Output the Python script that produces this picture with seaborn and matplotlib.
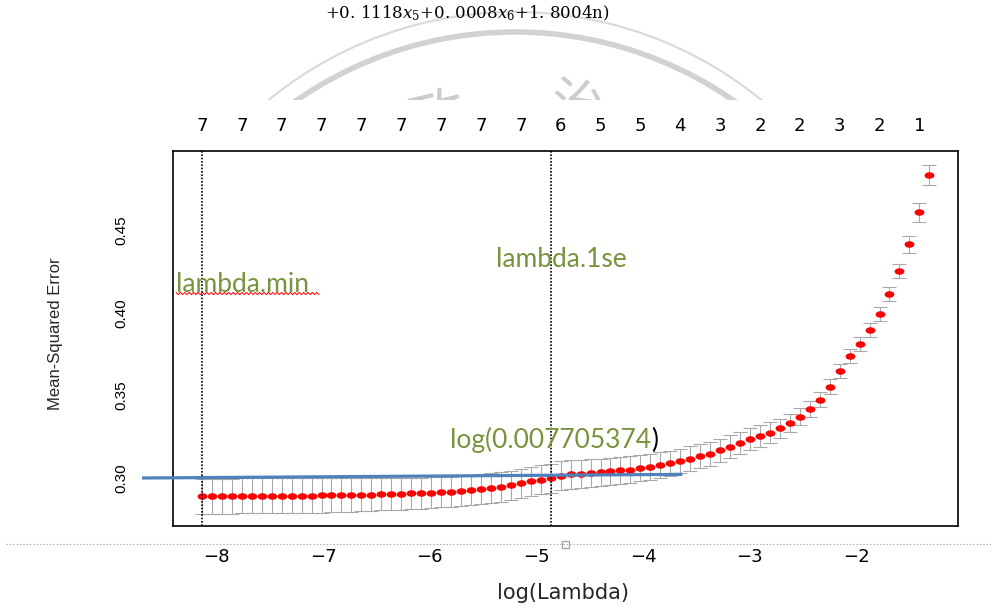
import numpy as np
import matplotlib
matplotlib.use("Agg")
import matplotlib.pyplot as plt
import seaborn as sns
import pandas as pd
from matplotlib.path import Path
from matplotlib.transforms import Affine2D, Bbox, TransformedBbox
from matplotlib.patches import Arc, Rectangle
from matplotlib.lines import Line2D

# ---------------- data ----------------
log_lambda = [-8.138, -8.045, -7.951, -7.858, -7.764, -7.671, -7.577, -7.484, -7.390, -7.297,
              -7.203, -7.110, -7.016, -6.923, -6.829, -6.736, -6.642, -6.549, -6.455, -6.362,
              -6.268, -6.175, -6.081, -5.988, -5.894, -5.801, -5.707, -5.614, -5.520, -5.427,
              -5.333, -5.240, -5.146, -5.053, -4.959, -4.866, -4.772, -4.679, -4.585, -4.492,
              -4.398, -4.305, -4.211, -4.118, -4.024, -3.931, -3.837, -3.744, -3.650, -3.557,
              -3.463, -3.370, -3.276, -3.183, -3.089, -2.996, -2.902, -2.809, -2.715, -2.622,
              -2.528, -2.435, -2.341, -2.248, -2.154, -2.061, -1.967, -1.874, -1.780, -1.687,
              -1.593, -1.500, -1.406, -1.313]
cv_mse = [0.2893, 0.2893, 0.2894, 0.2894, 0.2895, 0.2895, 0.2895, 0.2896, 0.2896, 0.2896,
          0.2897, 0.2897, 0.2898, 0.2899, 0.2900, 0.2901, 0.2902, 0.2903, 0.2905, 0.2906,
          0.2908, 0.2910, 0.2912, 0.2914, 0.2917, 0.2920, 0.2924, 0.2929, 0.2935, 0.2942,
          0.2950, 0.2960, 0.2972, 0.2983, 0.2993, 0.3001, 0.3017, 0.3025, 0.3029, 0.3033,
          0.3037, 0.3043, 0.3049, 0.3053, 0.3062, 0.3070, 0.3080, 0.3092, 0.3106, 0.3120,
          0.3134, 0.3150, 0.3170, 0.3192, 0.3214, 0.3236, 0.3256, 0.3277, 0.3302, 0.3335,
          0.3373, 0.3421, 0.3476, 0.3554, 0.3651, 0.3740, 0.3812, 0.3897, 0.3993, 0.4114,
          0.4253, 0.4414, 0.4607, 0.4833]
cv_se = [0.0106, 0.0106, 0.0106, 0.0106, 0.0106, 0.0106, 0.0106, 0.0106, 0.0106, 0.0106,
         0.0105, 0.0104, 0.0104, 0.0103, 0.0102, 0.0101, 0.0100, 0.0099, 0.0098, 0.0097,
         0.0096, 0.0095, 0.0094, 0.0093, 0.0092, 0.0091, 0.0091, 0.0090, 0.0090, 0.0089,
         0.0089, 0.0088, 0.0088, 0.0088, 0.0087, 0.0087, 0.0086, 0.0086, 0.0085, 0.0084,
         0.0083, 0.0082, 0.0081, 0.0080, 0.0079, 0.0078, 0.0077, 0.0076, 0.0075, 0.0074,
         0.0073, 0.0072, 0.0071, 0.0069, 0.0068, 0.0066, 0.0064, 0.0062, 0.0059, 0.0056,
         0.0053, 0.0049, 0.0046, 0.0044, 0.0043, 0.0043, 0.0042, 0.0041, 0.0040, 0.0042,
         0.0044, 0.0050, 0.0056, 0.0060]
nonzero_labels = ["7", "7", "7", "7", "7", "7", "7", "7", "7", "6",
                  "5", "5", "4", "3", "2", "2", "3", "2", "1"]
x_ticks = [-8, -7, -6, -5, -4, -3, -2]
y_ticks = [0.30, 0.35, 0.40, 0.45]
y_tick_labels = ["0.30", "0.35", "0.40", "0.45"]
log_lambda_min = -8.138
log_lambda_1se = -4.866          # log(0.007705374)
threshold_x = [-8.70, -3.63]     # hand-drawn blue line
threshold_y = [0.3003, 0.3025]

# ---------------- figure ----------------
W, H = 991, 608
sns.set_style("white")
plt.rcParams['font.family'] = ['DejaVu Sans']
plt.rcParams['mathtext.fontset'] = 'dejavuserif'

fig = plt.figure(figsize=(W / 100, H / 100), dpi=100)
fig.patch.set_facecolor("white")


def fx(px):
    return np.asarray(px, dtype=float) / W


def fy(py):
    return 1 - np.asarray(py, dtype=float) / H


ax = fig.add_axes([173 / W, 1 - 525.7 / H, 785 / W, 374.7 / H])

# error bars
ax.errorbar(log_lambda, cv_mse, yerr=cv_se, fmt='none', ecolor='#a9a9a9',
            elinewidth=0.8, capsize=5.3, capthick=0.8, zorder=2)

# red points (slightly wide ellipse, like the stretched screenshot)
df = pd.DataFrame({'log_lambda': log_lambda, 'mse': cv_mse})
ellipse = Path.unit_circle().transformed(Affine2D().scale(1.5, 1.0))
sns.scatterplot(data=df, x='log_lambda', y='mse', ax=ax, color='red',
                marker=ellipse, s=50, linewidth=0, zorder=3)

# dotted reference lines
for v in (log_lambda_min, log_lambda_1se):
    ax.axvline(v, color='black', ls=(0, (1, 1)), lw=1.2, zorder=4)

ax.set_xlim(-8.410, -1.044)
ax.set_ylim(0.27151, 0.49769)

ax.set_xticks(x_ticks)
ax.set_yticks(y_ticks, labels=y_tick_labels, rotation=90, va='center',
              fontsize=11, family='Liberation Sans')
ax.tick_params(axis='x', direction='out', length=6.5, width=1.1, pad=9.3,
               labelsize=13, colors='black')
ax.tick_params(axis='y', direction='out', length=11.5, width=1.1, pad=20.6,
               colors='black')
for sp in ax.spines.values():
    sp.set_visible(True)
    sp.set_color('black')
    sp.set_linewidth(1.2)

# top axis with number of non-zero coefficients
sec = ax.secondary_xaxis('top')
sec.set_xticks(log_lambda[::4], labels=nonzero_labels)
sec.tick_params(length=0, pad=11.7, labelsize=13, colors='black')
sec.spines['top'].set_visible(False)

ax.set_xlabel('log(Lambda)', fontsize=15)
ax.xaxis.set_label_coords(0.497, -0.1787)
ax.xaxis.label.set_va('center')
ax.set_ylabel('Mean-Squared Error', fontsize=12, family='Liberation Sans')
ax.yaxis.set_label_coords(-0.1503, 0.512)
ax.yaxis.label.set_va('center')

# hand-drawn blue threshold line
ax.plot(threshold_x, threshold_y, color='#4f81bd', lw=2.3, clip_on=False,
        zorder=5, solid_capstyle='butt')

# green annotations
green = '#77933c'
fig.text(fx(176), fy(291.5), 'lambda.min', color=green, fontsize=19,
         family='Lato', ha='left', va='baseline')
fig.text(fx(496), fy(267), 'lambda.1se', color=green, fontsize=19,
         family='Lato', ha='left', va='baseline')
t_log = fig.text(fx(450), fy(448), 'log(0.007705374', color=green, fontsize=19,
                 family='Lato', ha='left', va='baseline')
ax.annotate(')', xy=(1, 0), xycoords=t_log, ha='left', va='bottom',
            fontsize=19, family='Lato', color='black', annotation_clip=False)

# red wavy spell-check underline
wx = np.arange(176, 321, 2.2)
wy = 293.5 + np.where(np.arange(len(wx)) % 2 == 0, -1.1, 1.1)
fig.add_artist(Line2D(fx(wx), fy(wy), color='red', lw=0.7,
                      transform=fig.transFigure))

# document page elements: dotted line and small handle
fig.add_artist(Line2D([fx(6), 1.0], [fy(544), fy(544)], color='#b5b5b5', lw=0.8,
                      ls=(0, (1.5, 1.5)), transform=fig.transFigure))
fig.add_artist(Rectangle((fx(561.5), fy(547.5)), 7 / W, 7 / H, facecolor='white',
                         edgecolor='#a0a0a0', lw=0.9, transform=fig.transFigure))

# text line from the document above (kept fully inside the picture)
fig.text(fx(467), fy(4), r'+0. 1118$x_5$+0. 0008$x_6$+1. 8004n)', family='DejaVu Serif',
         fontsize=12, ha='center', va='top', color='black')

# watermark (seal) partially visible above the chart image
clipbox = TransformedBbox(Bbox([[0, fy(100)], [1, 1]]), fig.transFigure)
arc_outer = Arc((fx(515), fy(401)), 2 * 389 / W, 2 * 389 / H, theta1=0, theta2=180,
                color='#dadada', lw=1.6, transform=fig.transFigure)
arc_inner = Arc((fx(515), fy(415)), 2 * 383 / W, 2 * 383 / H, theta1=0, theta2=180,
                color='#d2d2d2', lw=4.0, transform=fig.transFigure)
for a in (arc_outer, arc_inner):
    fig.add_artist(a)
    a.set_clip_box(clipbox)
    a.set_clip_on(True)
for ch, cx, cy, rot in (('政', 438, 86, 13), ('治', 577, 76, -11)):
    tt = fig.text(fx(cx), fy(cy), ch, family=['Noto Sans CJK TC', 'DejaVu Sans'],
                  fontsize=40, color='#cccccc', ha='center', va='top', rotation=rot)
    tt.set_clip_box(clipbox)
    tt.set_clip_on(True)

fig.savefig('out.png', dpi=100, facecolor='white')
